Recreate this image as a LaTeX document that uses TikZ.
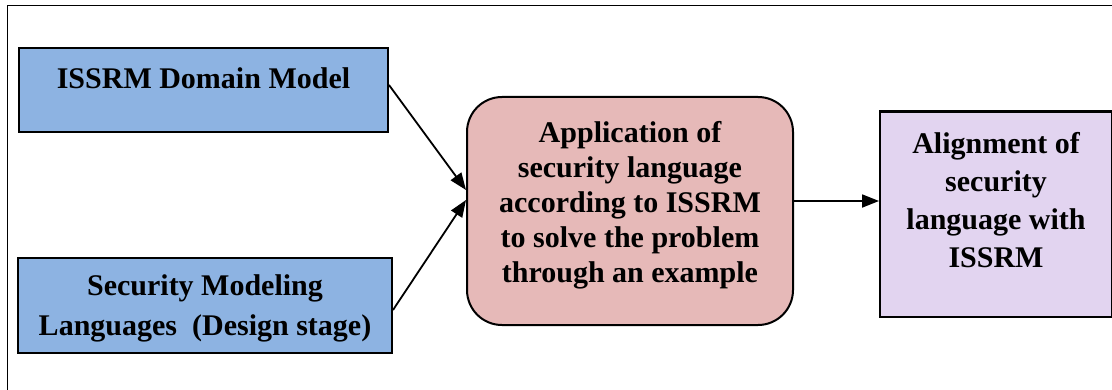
\documentclass[tikz,border=0pt]{standalone}
\usepackage{fontspec}
\setmainfont{Liberation Serif}
\usetikzlibrary{positioning,arrows.meta}
\definecolor{boxblue}{RGB}{141,179,226}
\definecolor{boxpink}{RGB}{230,185,184}
\definecolor{boxlilac}{RGB}{226,212,240}
\tikzset{
  box/.style={
    draw,
    line width=1pt,
    inner sep=0pt
  },
  boxtext/.style={
    font=\bfseries\fontsize{15}{17.5}\selectfont,
    align=center,
    inner sep=0pt
  },
  flow/.style={
    -{Triangle[length=8.5pt,width=6.5pt]},
    line width=0.9pt
  }
}

\begin{document}
\begin{tikzpicture}[x=0.5pt,y=-0.5pt]
  \useasboundingbox (0,0) rectangle (1112,390);
  % frame round the figure, cut off on the right and at the bottom
  \draw [line width=0.8pt] (7.5,400) -- (7.5,5.5) -- (1130,5.5);
  \node [box, fill=boxpink, rounded corners=17.5pt, minimum width=163pt, minimum height=114pt,
         label={[boxtext, yshift=2.75pt]center:Application of\\security language\\according to ISSRM\\to solve the problem\\through an example}] (Apply) at (630,211) {};
  \node [box, fill=boxblue, on grid, above left=60.5pt and 213.25pt of Apply, minimum width=184.5pt, minimum height=42pt,
         label={[boxtext, yshift=6pt]center:ISSRM Domain Model}] (Domain) {};
  \node [box, fill=boxblue, on grid, below left=47.25pt and 212.5pt of Apply, minimum width=187pt, minimum height=47.5pt,
         label={[boxtext, font=\bfseries\fontsize{15}{20}\selectfont, yshift=-1.25pt]center:Security Modeling\\Languages~~(Design stage)}] (Langs) {};
  \node [box, fill=boxlilac, on grid, below right=1.5pt and 183pt of Apply, minimum width=116pt, minimum height=102.5pt,
         label={[boxtext, font=\bfseries\fontsize{15}{19}\selectfont, yshift=7pt]center:Alignment of\\security\\language with\\ISSRM}] (Align) {};
  \draw [flow] ([yshift=2.5pt]Domain.east) -- ([yshift=10.5pt]Apply.west);
  \draw [flow] ([yshift=-2.25pt]Langs.east) -- ([yshift=5.5pt]Apply.west);
  \draw [flow] ([yshift=5pt]Apply.east) -- ([yshift=5pt]Apply.east -| Align.west);
\end{tikzpicture}
\end{document}
